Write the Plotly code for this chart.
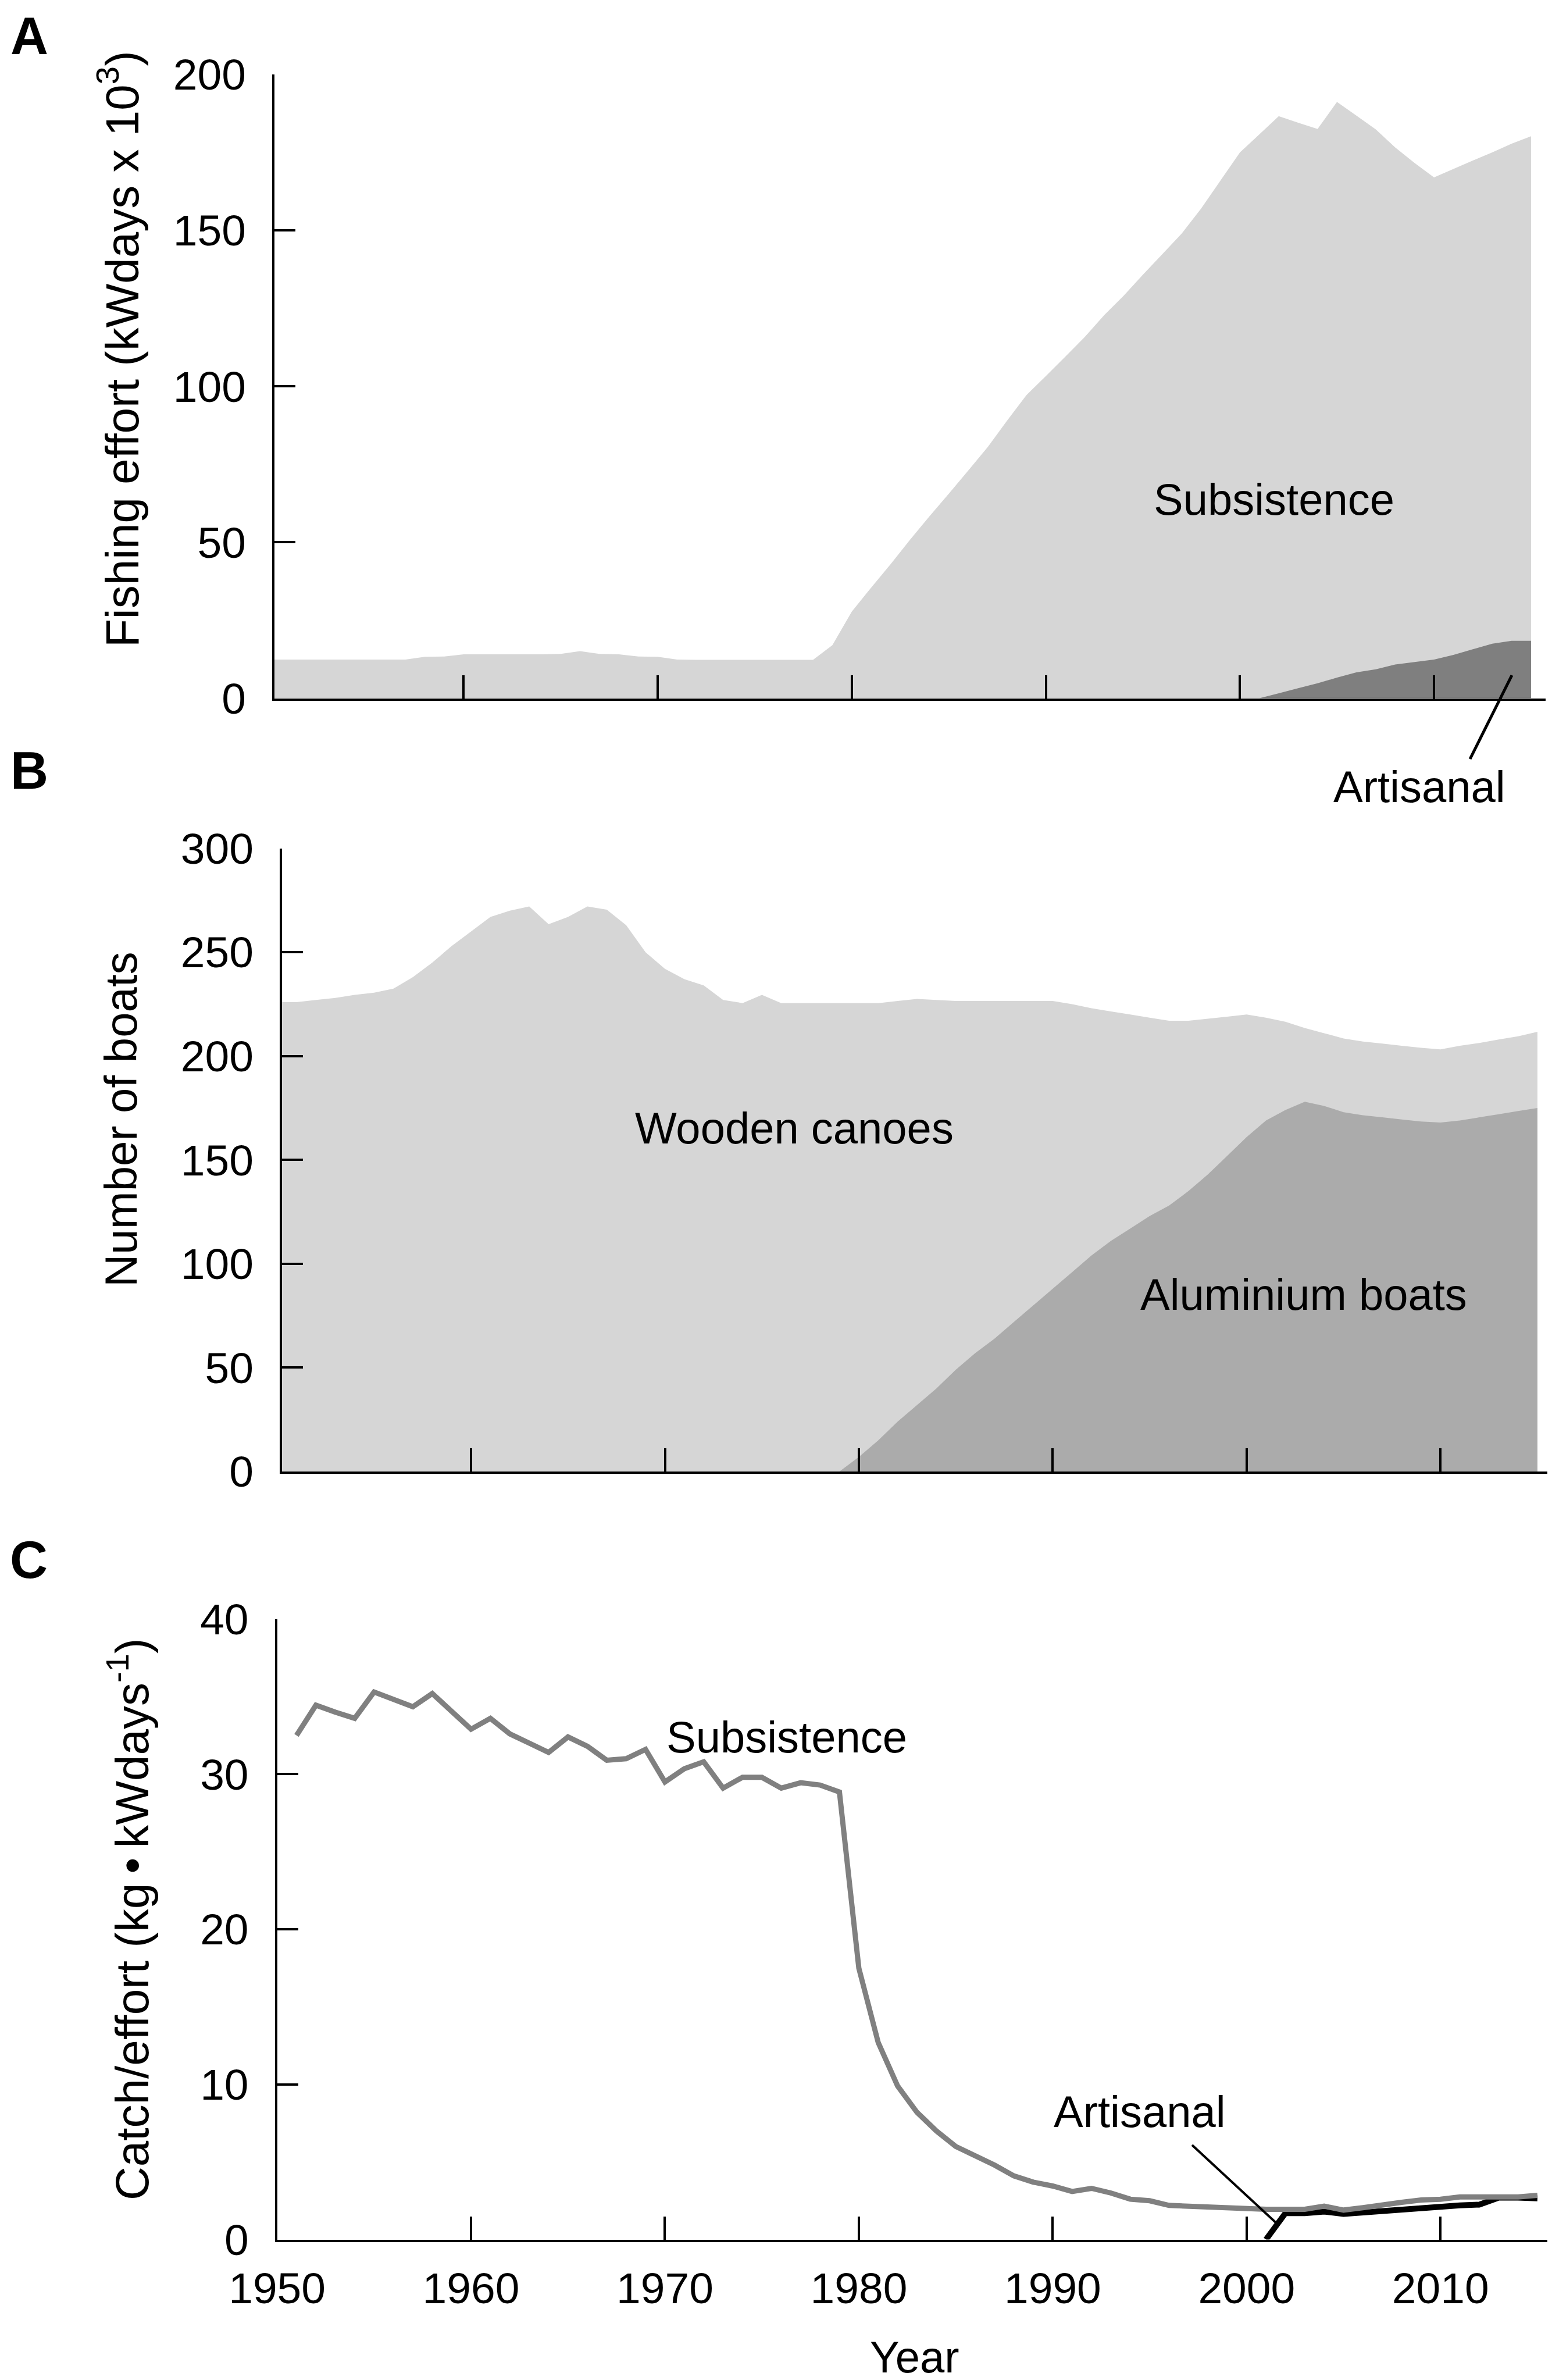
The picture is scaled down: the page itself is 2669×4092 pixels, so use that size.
import plotly.graph_objects as go

# ---- data ----
years = list(range(1950, 2016))

# Panel A: fishing effort (kWdays x 10^3), upper envelope of each shaded area
effort_subsistence = [
    12.4, 12.4, 12.4, 12.4, 12.4, 12.4, 12.4, 12.4, 13.3, 13.4,   # 1950-1959
    14.1, 14.1, 14.1, 14.1, 14.1, 14.2, 15.1, 14.2, 14.1, 13.4,   # 1960-1969
    13.3, 12.4, 12.3, 12.3, 12.3, 12.3, 12.3, 12.3, 12.3, 17.0,   # 1970-1979
    27.8, 35.5, 43.0, 50.8, 58.3, 65.6, 73.0, 80.5, 89.0, 97.2,   # 1980-1989
    103.3, 109.5, 115.8, 122.8, 129.0, 135.8, 142.4, 149.0, 157.0, 166.0,  # 1990-1999
    175.0, 180.8, 186.6, 184.5, 182.5, 191.2, 186.8, 182.4, 176.6, 171.6,  # 2000-2009
    167.0, 169.7, 172.4, 175.0, 177.8, 180.2,                              # 2010-2015
]
effort_artisanal = [None] * 51 + [
    0.0, 1.6, 3.2, 4.8, 6.6, 8.3, 9.3, 10.8, 11.6,   # 2001-2009
    12.4, 13.9, 15.7, 17.5, 18.4, 18.4,              # 2010-2015
]

# Panel B: number of boats
boats_wooden = [
    226, 226, 227, 228, 229.5, 230.5, 232.5, 238, 245, 253,        # 1950-1959
    260, 267, 270, 272, 263.5, 267, 272, 270.5, 263, 250,           # 1960-1969
    242, 237, 234, 227, 225.5, 229.5, 225.5, 225.5, 225.5, 225.5,   # 1970-1979
    225.5, 225.5, 226.5, 227.5, 227, 226.5, 226.5, 226.5, 226.5, 226.5,  # 1980-1989
    226.5, 225, 223, 221.5, 220, 218.5, 217, 217, 218, 219,         # 1990-1999
    220, 218.5, 216.5, 213.5, 211, 208.5, 207, 206, 205, 204,       # 2000-2009
    203.2, 205, 206.3, 208, 209.5, 211.7,                           # 2010-2015
]
boats_aluminium = [None] * 29 + [
    0,                                                   # 1979
    7, 15, 24, 32, 40, 49, 57, 64, 72, 80,               # 1980-1989
    88, 96, 104, 111, 117, 123, 128, 135, 143, 152,      # 1990-1999
    161, 169, 174, 178, 176, 173, 171.5, 170.5, 169.5, 168.5,  # 2000-2009
    168, 169, 170.5, 172, 173.5, 175,                    # 2010-2015
]

# Panel C: catch per unit effort (kg per kWday)
cpue_years = list(range(1951, 2016))
cpue_subsistence = [
    32.5, 34.45, 34.0, 33.6, 35.3, 34.8, 34.35, 35.2, 34.1,          # 1951-1959
    32.9, 33.6, 32.6, 32.0, 31.4, 32.4, 31.8, 30.9, 31.0, 31.6,      # 1960-1969
    29.5, 30.35, 30.8, 29.1, 29.8, 29.8, 29.1, 29.45, 29.3, 28.85,   # 1970-1979
    17.5, 12.7, 9.9, 8.2, 7.0, 6.0, 5.4, 4.8, 4.1, 3.7,              # 1980-1989
    3.45, 3.1, 3.3, 3.0, 2.6, 2.5, 2.2, 2.15, 2.05, 2.05,            # 1990-1999
    1.95, 1.95, 1.95, 1.95, 2.15, 1.9, 2.05, 2.25, 2.4, 2.55,        # 2000-2009
    2.6, 2.75, 2.75, 2.75, 2.75, 2.85,                               # 2010-2015
]
cpue_artisanal = [None] * 50 + [
    0.0, 1.7, 1.7, 1.8, 1.65, 1.75, 1.85, 1.95, 2.05,   # 2001-2009
    2.15, 2.2, 2.25, 2.7, 2.7, 2.65,                    # 2010-2015
]

decade_ticks = [1950, 1960, 1970, 1980, 1990, 2000, 2010]

# ---- styling ----
W, H = 2669, 4092
FONT = "Liberation Sans, Arial, sans-serif"
LIGHT = "#d6d6d6"


def px_x(x):
    return x / W


def px_y(y):
    return 1 - y / H


def x_axis(left, right, rng, anchor, tickvals, labels=False):
    return dict(
        domain=[px_x(left), px_x(right)], range=rng, anchor=anchor,
        showline=True, linecolor="black", linewidth=4,
        ticks="inside", ticklen=40, tickwidth=4, tickcolor="black",
        tickvals=tickvals, showticklabels=labels, ticklabelstandoff=15,
        showgrid=False, zeroline=False, automargin=False,
        tickfont=dict(family=FONT, size=75, color="black"),
    )


def y_axis(bottom, top, rng, anchor, dtick):
    return dict(
        domain=[px_y(bottom), px_y(top)], range=rng, anchor=anchor,
        showline=True, linecolor="black", linewidth=4,
        ticks="inside", ticklen=36, tickwidth=4, tickcolor="black",
        tick0=0, dtick=dtick, ticklabelstandoff=30,
        showgrid=False, zeroline=False, automargin=False,
        tickfont=dict(family=FONT, size=75, color="black"),
    )


def label(text, x, y, size=76, angle=0):
    return dict(
        text=text, xref="paper", yref="paper", x=px_x(x), y=px_y(y),
        xanchor="center", yanchor="middle", showarrow=False, textangle=angle,
        font=dict(family=FONT, size=size, color="black"),
    )


def leader(x0, y0, x1, y1, width=4):
    return dict(
        type="line", xref="paper", yref="paper",
        x0=px_x(x0), y0=px_y(y0), x1=px_x(x1), y1=px_y(y1),
        line=dict(color="black", width=width),
    )


fig = go.Figure()

# Panel A
fig.add_trace(go.Scatter(x=years, y=effort_subsistence, mode="none", fill="tozeroy",
                         fillcolor=LIGHT, xaxis="x", yaxis="y", hoverinfo="skip"))
fig.add_trace(go.Scatter(x=years, y=effort_artisanal, mode="none", fill="tozeroy",
                         fillcolor="#7f7f7f", xaxis="x", yaxis="y", hoverinfo="skip"))

# Panel B
fig.add_trace(go.Scatter(x=years, y=boats_wooden, mode="none", fill="tozeroy",
                         fillcolor=LIGHT, xaxis="x2", yaxis="y2", hoverinfo="skip"))
fig.add_trace(go.Scatter(x=years, y=boats_aluminium, mode="none", fill="tozeroy",
                         fillcolor="#ababab", xaxis="x2", yaxis="y2", hoverinfo="skip"))

# Panel C
fig.add_trace(go.Scatter(x=cpue_years, y=cpue_artisanal, mode="lines",
                         line=dict(color="black", width=10),
                         xaxis="x3", yaxis="y3", hoverinfo="skip"))
fig.add_trace(go.Scatter(x=cpue_years, y=cpue_subsistence, mode="lines",
                         line=dict(color="#808080", width=9),
                         xaxis="x3", yaxis="y3", hoverinfo="skip"))

fig.update_layout(
    width=W, height=H,
    margin=dict(l=0, r=0, t=0, b=0, autoexpand=False),
    paper_bgcolor="white", plot_bgcolor="white",
    showlegend=False,
    font=dict(family=FONT, size=76, color="black"),
    xaxis=x_axis(464, 2650, [1950.25, 2015.75], "y", decade_ticks[1:]),
    yaxis=y_axis(1192.5, 120, [0, 200], "x", 50),
    xaxis2=x_axis(477, 2661, [1950.25, 2015.75], "y2", decade_ticks[1:]),
    yaxis2=y_axis(2522, 1450.6, [0, 300], "x2", 50),
    xaxis3=x_axis(468.6, 2661, [1950, 2015.75], "y3", decade_ticks, labels=True),
    yaxis3=y_axis(3842.5, 2775.7, [0, 40], "x3", 10),
    annotations=[
        label("<b>A</b>", 42, 54, size=90),
        label("<b>B</b>", 42, 1317, size=90),
        label("<b>C</b>", 41, 2674, size=90),
        label("Fishing effort (kWdays x 10<sup>3</sup>)", 196, 592, size=80, angle=-90),
        label("Number of boats", 200, 1917, size=78, angle=-90),
        label("Catch/effort (kg\u2009\u2022\u2009kWdays<sup>-1</sup>)", 213, 3292,
              size=80, angle=-90),
        label("Subsistence", 2183, 850),
        label("Artisanal", 2433, 1345),
        label("Wooden canoes", 1358, 1931),
        label("Aluminium boats", 2234, 2217),
        label("Subsistence", 1345, 2978),
        label("Artisanal", 1952, 3622),
        label("Year", 1565, 4044),
    ],
    shapes=[
        leader(2592, 1153, 2520, 1297, width=5),
        leader(2042, 3680, 2190, 3817, width=4),
    ],
)

fig.write_html("out.html")
